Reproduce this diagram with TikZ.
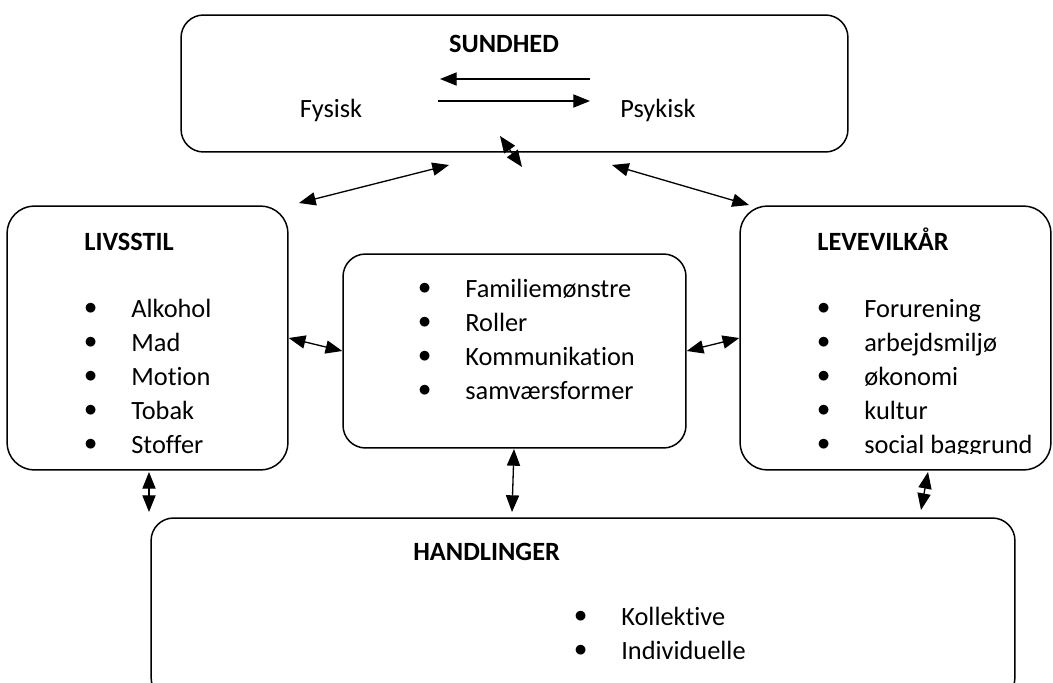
\documentclass[tikz,border=0pt]{standalone}
\usepackage{fontspec}
\setmainfont{Carlito}[Ligatures=CommonOff]
\usetikzlibrary{arrows.meta}
\usetikzlibrary{positioning}
\usetikzlibrary{calc}

\newcommand{\bul}{\makebox[0.94cm][l]{\raisebox{1.2pt}{$\bullet$}}}

\begin{document}
\begin{tikzpicture}[x=0.02cm,y=-0.02cm,>={Triangle[length=9.5pt,width=7.5pt]},
    box/.style={draw,rounded corners=0.45cm,line width=0.85pt,inner sep=0pt},
    head/.style={font=\fontsize{15}{18}\selectfont\bfseries,anchor=base west,inner sep=0pt},
    txt/.style={font=\fontsize{15}{18}\selectfont,anchor=base west,inner sep=0pt},
    dbl/.style={<->,line width=0.75pt},
    one/.style={->,line width=0.75pt}]

  \useasboundingbox (0,0) rectangle (1053,682);

  % boxes
  \node[box,minimum width=13.34cm,minimum height=2.74cm] (sundhed) at (514.5,83.5) {};
  \node[box,rounded corners=0.55cm,minimum width=5.62cm,minimum height=5.28cm] (livsstil) at (147.5,338) {};
  \node[box,minimum width=6.86cm,minimum height=3.88cm] (familie) at (514.5,351) {};
  \node[box,rounded corners=0.55cm,minimum width=6.22cm,minimum height=5.28cm] (levevilkar) at (895.5,338) {};
  \node[box,minimum width=17.28cm,minimum height=3.64cm] (handlinger) at (583,609) {};

  % texts
  \node[txt,anchor=base] (sundhedT) at (504,53) {\bfseries SUNDHED};
  \node[txt,anchor=base] (fysisk) at (331,118) {Fysisk};
  \node[txt,anchor=base] (psykisk) at (658,118) {Psykisk};
  \node[head] (livsstilT) at (84,250) {LIVSSTIL};
  \node[head] (levevilkarT) at (817,250) {LEVEVILKÅR};
  \node[head] (handlingerT) at (413,560) {HANDLINGER};

  \foreach \t [count=\i from 0] in {Alkohol,Mad,Motion,Tobak,Stoffer}
    \node[txt] (liv\i) at (84,317+34*\i) {\bul\t};
  \foreach \t [count=\i from 0] in {Familiemønstre,Roller,Kommunikation,samværsformer}
    \node[txt] (fam\i) at (418,297+34*\i) {\bul\t};
  \begin{scope}
    \clip (740,206) rectangle (1053,453.5);
    \foreach \t [count=\i from 0] in {Forurening,arbejdsmiljø,økonomi,kultur,social baggrund}
      \node[txt] (lev\i) at (817,317+34*\i) {\bul\t};
  \end{scope}
  \foreach \t [count=\i from 0] in {Kollektive,Individuelle}
    \node[txt] (hand\i) at (574,625+34*\i) {\bul\t};

  % free ends
  \coordinate (fp1) at (590,79);  \coordinate (fp2) at (440,79);
  \coordinate (pf1) at (438,101); \coordinate (pf2) at (590,101);
  \coordinate (s1) at (500,136);  \coordinate (s2) at (522,167);
  \coordinate (sl1) at (449,165); \coordinate (sl2) at (299,203);
  \coordinate (sr1) at (612,165); \coordinate (sr2) at (749,205);
  \coordinate (lh1) at (149,472); \coordinate (lh2) at (149,512);
  \coordinate (fh1) at (514,449); \coordinate (fh2) at (512,512);
  \coordinate (rh1) at (928,472); \coordinate (rh2) at (921,510);

  % connectors
  \draw[one] (fp1) -- (fp2);
  \draw[one] (pf1) -- (pf2);
  \draw[dbl] (s1) -- (s2);
  \draw[dbl] (sl1) -- (sl2);
  \draw[dbl] (sr1) -- (sr2);
  \draw[dbl] (livsstil.east) -- (familie.west);
  \draw[dbl] (familie.east) -- (levevilkar.west);
  \draw[dbl] (lh1) -- (lh2);
  \draw[dbl] (fh1) -- (fh2);
  \draw[dbl] (rh1) -- (rh2);
\end{tikzpicture}
\end{document}
